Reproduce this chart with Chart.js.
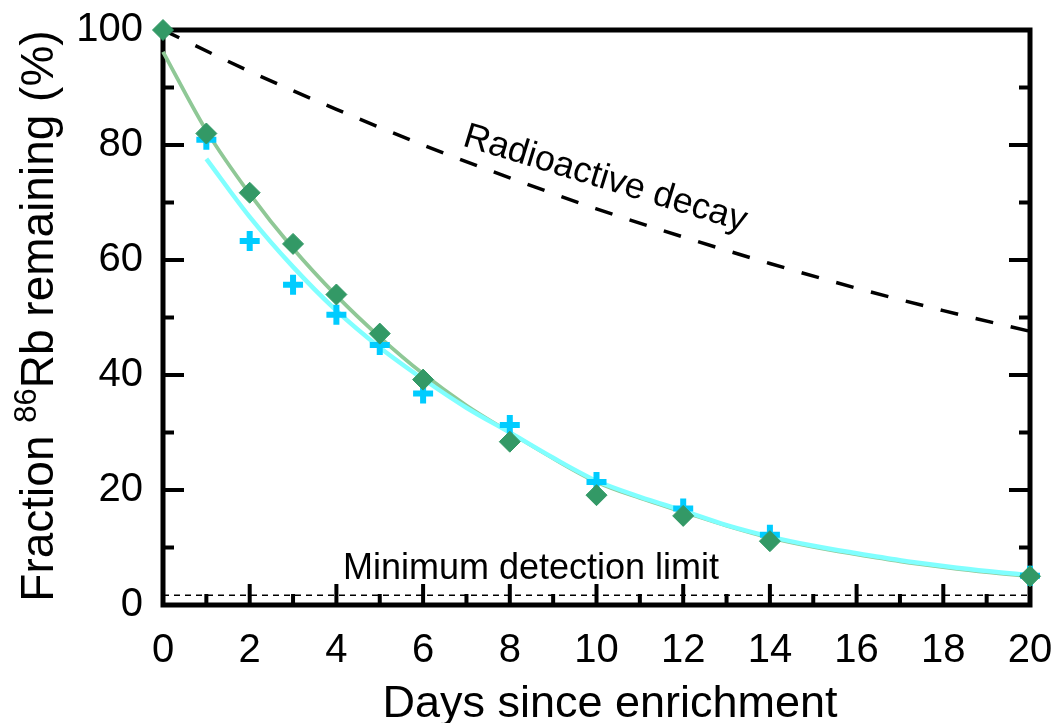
<!DOCTYPE html>
<html>
<head>
<meta charset="utf-8">
<script src="https://cdn.jsdelivr.net/npm/chart.js@4.4.1/dist/chart.umd.min.js"></script>
<style>
  html, body { margin: 0; background: #fff; }
  #wrap { width: 1052px; height: 723px; }
</style>
</head>
<body>
<div id="wrap"><canvas id="c"></canvas></div>
<script>
// measured points (Rb-86 fraction remaining, %)
const diamondDays = [0, 1, 2, 3, 4, 5, 6, 8, 10, 12, 14, 20];
const diamondVals = [100, 82, 71.7, 62.8, 54, 47.2, 39.2, 28.4, 19.1, 15.5, 11.1, 5.0];
const crossDays = [1, 2, 3, 4, 5, 6, 8, 10, 12, 14, 20];
const crossVals = [80.9, 63.3, 55.7, 50.5, 45.2, 36.8, 31.3, 21.4, 16.8, 12.2, 5.1];

// fitted curves
const greenFitDays = [0, 1, 2, 3, 4, 5, 6, 7, 8, 9, 10, 11, 12, 13, 14, 15, 16, 17, 18, 19, 20];
const greenFitVals = [96.2, 82.5, 71.5, 62, 53.8, 46.6, 40.2, 34.7, 30, 25.5, 21.4, 18.6, 16.2, 13.8, 11.7, 10.1, 8.8, 7.6, 6.6, 5.7, 5.0];
const cyanFitDays = [1, 2, 3, 4, 5, 6, 7, 8, 9, 10, 11, 12, 13, 14, 15, 16, 17, 18, 19, 20];
const cyanFitVals = [77.6, 67.5, 58.8, 51.2, 44.8, 39.3, 34.3, 30.0, 25.6, 21.6, 18.8, 16.4, 13.9, 11.9, 10.3, 9.0, 7.8, 6.8, 5.9, 5.2];

// radioactive decay reference line
const decayDays = [0, 2, 4, 6, 8, 10, 12, 14, 16, 18, 20];
const decayVals = [100, 92.8, 86.2, 80.0, 74.3, 68.9, 64.0, 59.4, 55.1, 51.2, 47.6];

const detectionDays = [0, 20];
const detectionVals = [1.7, 1.7];

const xMajor = [0, 2, 4, 6, 8, 10, 12, 14, 16, 18, 20];
const yMajor = [0, 20, 40, 60, 80, 100];

const FONT = '"Liberation Sans", Arial, sans-serif';

const pts = (xs, ys) => xs.map((x, i) => ({ x, y: ys[i] }));

// frame + inward ticks, titles and labels
const framePlugin = {
    id: "frame",
    beforeDatasetsDraw(chart) {
        const { ctx, chartArea: a, scales: { x, y } } = chart;
        ctx.save();
        ctx.strokeStyle = "#000";
        ctx.lineCap = "butt";
        ctx.lineWidth = 4;
        ctx.beginPath();
        for (let v = 0; v <= 20; v++) {
            const px = x.getPixelForValue(v);
            const len = v % 2 === 0 ? 21 : 11;
            ctx.moveTo(px, a.bottom);
            ctx.lineTo(px, a.bottom - len);
        }
        for (let v = 0; v <= 100; v += 10) {
            const py = y.getPixelForValue(v);
            const len = v % 20 === 0 ? 21 : 11;
            ctx.moveTo(a.left, py);
            ctx.lineTo(a.left + len, py);
            ctx.moveTo(a.right, py);
            ctx.lineTo(a.right - len, py);
        }
        ctx.stroke();
        ctx.lineWidth = 5;
        ctx.lineJoin = "miter";
        ctx.strokeRect(a.left, a.top, a.right - a.left, a.bottom - a.top);
        ctx.restore();
    },
    afterDraw(chart) {
        const { ctx, scales: { x, y } } = chart;
        ctx.save();
        ctx.fillStyle = "#000";

        // y title with superscript
        ctx.translate(53, 316);
        ctx.rotate(-Math.PI / 2);
        const big = "46px " + FONT;
        const small = "31px " + FONT;
        const parts = [["Fraction ", big, 0], ["86", small, -17], ["Rb remaining (%)", big, 0]];
        let total = 0;
        parts.forEach(p => { ctx.font = p[1]; p.push(ctx.measureText(p[0]).width); total += p[3]; });
        let cx = -total / 2;
        ctx.textBaseline = "alphabetic";
        ctx.textAlign = "left";
        parts.forEach(p => { ctx.font = p[1]; ctx.fillText(p[0], cx, p[2]); cx += p[3]; });
        ctx.restore();

        // x title
        ctx.save();
        ctx.fillStyle = "#000";
        ctx.font = "45px " + FONT;
        ctx.textAlign = "center";
        ctx.textBaseline = "alphabetic";
        ctx.fillText("Days since enrichment", 610, 717);
        ctx.restore();

        ctx.save();
        ctx.fillStyle = "#000";
        ctx.font = "36px " + FONT;
        ctx.textAlign = "center";
        ctx.textBaseline = "middle";
        ctx.translate(x.getPixelForValue(10.2), y.getPixelForValue(74.1));
        ctx.rotate(17 * Math.PI / 180);
        ctx.fillText("Radioactive decay", 0, 0);
        ctx.restore();

        ctx.save();
        ctx.fillStyle = "#000";
        ctx.font = "36px " + FONT;
        ctx.textAlign = "center";
        ctx.textBaseline = "alphabetic";
        ctx.fillText("Minimum detection limit", x.getPixelForValue(8.49), y.getPixelForValue(4.5));
        ctx.restore();
    },
};

new Chart(document.getElementById("c"), {
    type: "scatter",
    data: {
        datasets: [
            {
                label: "measured A",
                data: pts(diamondDays, diamondVals),
                pointStyle: "rectRot",
                pointRadius: 10.5,
                backgroundColor: "#339966",
                borderColor: "#339966",
                borderWidth: 1,
                showLine: false,
                clip: false,
                order: 1,
            },
            {
                label: "measured B",
                data: pts(crossDays, crossVals),
                pointStyle: "cross",
                pointRadius: 10,
                borderColor: "#00ccff",
                borderWidth: 6,
                showLine: false,
                clip: false,
                order: 2,
            },
            {
                label: "fit B",
                data: pts(cyanFitDays, cyanFitVals),
                showLine: true,
                borderColor: "#80ffff",
                borderWidth: 4.5,
                pointRadius: 0,
                cubicInterpolationMode: "monotone",
                clip: false,
                order: 3,
            },
            {
                label: "fit A",
                data: pts(greenFitDays, greenFitVals),
                showLine: true,
                borderColor: "#8fc896",
                borderWidth: 3.8,
                pointRadius: 0,
                cubicInterpolationMode: "monotone",
                clip: false,
                order: 4,
            },
            {
                label: "Radioactive decay",
                data: pts(decayDays, decayVals),
                showLine: true,
                borderColor: "#000",
                borderWidth: 3.5,
                borderDash: [18, 18],
                pointRadius: 0,
                cubicInterpolationMode: "monotone",
                order: 5,
            },
            {
                label: "Minimum detection limit",
                data: pts(detectionDays, detectionVals),
                showLine: true,
                borderColor: "#000",
                borderWidth: 1.5,
                borderDash: [6, 5],
                pointRadius: 0,
                order: 6,
            },
        ],
    },
    options: {
        responsive: true,
        maintainAspectRatio: false,
        animation: false,
        layout: { padding: { top: 30, right: 22, left: 0, bottom: 0 } },
        plugins: {
            legend: { display: false },
            tooltip: { enabled: false },
        },
        scales: {
            x: {
                type: "linear",
                min: 0,
                max: 20,
                afterFit: (s) => { s.height = 118; s.paddingLeft = 0; s.paddingRight = 0; },
                afterBuildTicks: (s) => { s.ticks = xMajor.map(v => ({ value: v })); },
                grid: { display: false, drawTicks: false },
                border: { display: false },
                ticks: {
                    color: "#000",
                    font: { family: FONT, size: 40 },
                    padding: 22,
                    maxRotation: 0,
                },
            },
            y: {
                min: 0,
                max: 100,
                afterFit: (s) => { s.width = 163; s.paddingTop = 0; s.paddingBottom = 0; },
                afterBuildTicks: (s) => { s.ticks = yMajor.map(v => ({ value: v })); },
                grid: { display: false, drawTicks: false },
                border: { display: false },
                ticks: {
                    color: "#000",
                    font: { family: FONT, size: 40 },
                    padding: 20,
                },
            },
        },
    },
    plugins: [framePlugin],
});
</script>
</body>
</html>
